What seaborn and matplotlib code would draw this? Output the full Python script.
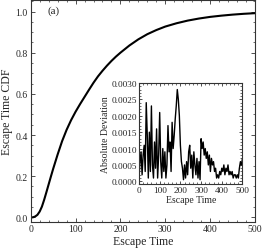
import matplotlib
matplotlib.use("Agg")
import matplotlib.pyplot as plt
import seaborn as sns
import pandas as pd
from matplotlib.ticker import MultipleLocator

sns.set_style("ticks")
plt.rcParams['font.family'] = ['Liberation Serif', 'DejaVu Serif']
plt.rcParams['mathtext.fontset'] = 'stix'

# Main CDF curve
cdf_time = [0, 5, 10, 15, 20, 25, 30, 35, 40, 45, 50, 60, 70, 80, 90, 100, 110, 120, 130,
            140, 150, 160, 170, 180, 190, 200, 220, 240, 260, 280, 300, 325, 350, 375,
            400, 425, 450, 475, 500]
cdf_value = [0.0, 0.0, 0.004, 0.012, 0.028, 0.052, 0.085, 0.122, 0.160, 0.198, 0.235, 0.305,
             0.37, 0.425, 0.472, 0.513, 0.550, 0.585, 0.620, 0.654, 0.685, 0.712, 0.737,
             0.76, 0.781, 0.80, 0.835, 0.865, 0.89, 0.91, 0.927, 0.943, 0.956, 0.966,
             0.974, 0.980, 0.985, 0.989, 0.992]

# Inset: absolute deviation
dev_time = list(range(0, 505, 5))
dev_value = [0.0001, 0.0006, 0.0009, 0.0002, 0.0008, 0.0011, 0.0003, 0.0024, 0.0014, 0.0001,
             0.0015, 0.0003, 0.0023, 0.0005, 0.0001, 0.0012, 0.0004, 0.0016, 0.0001, 0.0008,
             0.0021, 0.0006, 0.0001, 0.0010, 0.0003, 0.0009, 0.0001, 0.0005, 0.0017, 0.0009,
             0.0012, 0.0003, 0.0018, 0.0010, 0.0014, 0.0019, 0.0023, 0.0028, 0.0025, 0.0020,
             0.0011, 0.0006, 0.0004, 0.00005, 0.0005, 0.0001, 0.0006, 0.0002, 0.0009, 0.0011,
             0.0004, 0.0008, 0.0001, 0.0009, 0.0005, 0.0002, 0.0007, 0.0001, 0.0006, 0.00005,
             0.0013, 0.0010, 0.0012, 0.0008, 0.0010, 0.0007, 0.0009, 0.0005, 0.0008, 0.0003,
             0.0007, 0.0005, 0.0006, 0.0003, 0.0004, 0.0001, 0.0002, 0.0001, 0.0003, 0.0002,
             0.0004, 0.0003, 0.0005, 0.0002, 0.0004, 0.0003, 0.0005, 0.0002, 0.0003, 0.0002,
             0.0003, 0.0001, 0.0002, 0.0002, 0.0001, 0.0002, 0.0001, 0.0004, 0.0006, 0.0005,
             0.0007]

main_x_ticks = [0, 100, 200, 300, 400, 500]
main_y_ticks = [0.0, 0.2, 0.4, 0.6, 0.8, 1.0]
inset_y_ticks = [0.0, 0.0005, 0.0010, 0.0015, 0.0020, 0.0025, 0.0030]

df_cdf = pd.DataFrame({"t": cdf_time, "F": cdf_value})
df_dev = pd.DataFrame({"t": dev_time, "d": dev_value})

fig = plt.figure(figsize=(2.63, 2.53), dpi=100)
ax = fig.add_axes([0.1167, 0.12, 0.853, 0.876])
sns.lineplot(data=df_cdf, x="t", y="F", ax=ax, color="black", lw=1.5)
ax.set_xlim(0, 500)
ax.set_ylim(-0.021, 1.056)
ax.set_xticks(main_x_ticks)
ax.set_yticks(main_y_ticks)
ax.set_yticklabels([f"{v:.1f}" for v in main_y_ticks])
ax.xaxis.set_minor_locator(MultipleLocator(20))
ax.yaxis.set_minor_locator(MultipleLocator(0.05))
ax.tick_params(which="both", direction="in", top=True, right=True, labelsize=7,
               color="#333333", pad=2)
ax.tick_params(which="major", length=3, width=0.6)
ax.tick_params(which="minor", length=1.6, width=0.5)
ax.set_xlabel("Escape Time", fontsize=8.5, labelpad=1)
ax.set_ylabel("Escape Time CDF", fontsize=8.5, labelpad=2)
for s in ax.spines.values():
    s.set_color("#333333")
    s.set_linewidth(0.8)
ax.text(50, 1.007, "(a)", fontsize=8, ha="center", va="center")

ins = fig.add_axes([0.5285, 0.269, 0.3935, 0.399])
sns.lineplot(data=df_dev, x="t", y="d", ax=ins, color="black", lw=1.0)
ins.set_xlim(0, 500)
ins.set_ylim(-0.00008, 0.003)
ins.set_xticks(main_x_ticks)
ins.set_yticks(inset_y_ticks)
ins.set_yticklabels([f"{v:.4f}" for v in inset_y_ticks])
ins.xaxis.set_minor_locator(MultipleLocator(20))
ins.yaxis.set_minor_locator(MultipleLocator(0.0001))
ins.tick_params(which="both", direction="in", top=True, right=True, labelsize=6.7,
                color="#333333", pad=1.5)
ins.tick_params(which="major", length=2.5, width=0.6)
ins.tick_params(which="minor", length=1.3, width=0.5)
ins.set_xlabel("Escape Time", fontsize=7, labelpad=1)
ins.set_ylabel("Absolute Deviation", fontsize=7, labelpad=1)
for s in ins.spines.values():
    s.set_color("#333333")
    s.set_linewidth(0.8)

fig.savefig("out.png", dpi=100)
